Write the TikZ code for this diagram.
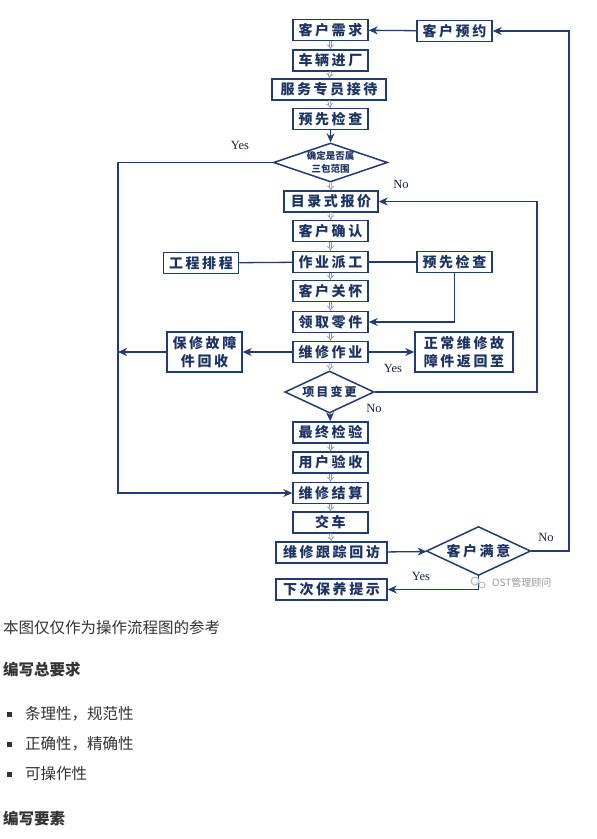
\documentclass[tikz,border=0pt]{standalone}
\usepackage{fontspec}
\setmainfont{Liberation Serif}
\newfontfamily\cjk{Noto Sans CJK SC}
\newfontfamily\boxcjk[LetterSpace=18]{Noto Sans CJK SC}
\usepackage{tikz}
\usetikzlibrary{arrows.meta,shapes.geometric,positioning}
\definecolor{navy}{RGB}{33,60,112}
\definecolor{boxtext}{RGB}{28,52,100}
\definecolor{hollowc}{RGB}{130,148,185}
\definecolor{bodytext}{RGB}{51,51,51}

\begin{document}
\begin{tikzpicture}[x=1pt,y=-1pt,
  box/.style={draw=navy,line width=1.5pt,fill=white,text=boxtext,inner sep=0pt,
    minimum width=75pt,minimum height=21pt,align=center,
    font=\boxcjk\bfseries\fontsize{14}{18}\selectfont},
  dia/.style={diamond,aspect=3,draw=navy,line width=1.5pt,fill=white,text=boxtext,
    inner sep=0pt,align=center},
  flow/.style={draw=navy,line width=1.3pt,-{Stealth[length=9pt,width=8pt]}},
  link/.style={draw=navy,line width=1.3pt},
  hollow/.style={draw=hollowc,double=white,double distance=1.6pt,line width=0.7pt,-{Implies}},
  yn/.style={font=\fontsize{12.5}{14}\selectfont,text=navy!60!black,inner sep=0pt},
  body/.style={anchor=west,text=bodytext,inner sep=0pt,font=\cjk\fontsize{15.5}{18}\selectfont}]
  \useasboundingbox (0,0) rectangle (597,839);

  \node[box] (need) at (330.5,30) {客户需求};
  \node[box] (enter) at (330.5,60.5) {车辆进厂};
  \node[box,minimum width=114pt] (recept) at (329,89.5) {服务专员接待};
  \node[box] (precheck) at (330.5,119) {预先检查};
  \node[dia,minimum width=113pt,minimum height=39pt,
    font=\cjk\bfseries\fontsize{9.5}{13}\selectfont] (warranty) at (330.5,162.5) {确定是否属\\三包范围};
  \node[box,minimum width=94pt] (quote) at (331,201.5) {目录式报价};
  \node[box] (confirm) at (330.5,231) {客户确认};
  \node[box] (dispatch) at (330.5,262) {作业派工};
  \node[box] (schedule) at (201,263) {工程排程};
  \node[box] (care) at (330.5,291) {客户关怀};
  \node[box] (parts) at (330.5,322) {领取零件};
  \node[box] (repair) at (330.5,352) {维修作业};
  \node[box,minimum height=40pt] (recycle) at (204.5,352) {保修故障\\件回收};
  \node[box,minimum width=98pt,minimum height=40pt] (return) at (464,352) {正常维修故\\障件返回至};
  \node[box] (recheck) at (454.5,262) {预先检查};
  \node[box] (booking) at (454.5,31) {客户预约};
  \node[dia,minimum width=87pt,minimum height=42pt,
    font=\boxcjk\bfseries\fontsize{12}{14}\selectfont] (change) at (329.5,392) {项目变更};
  \node[box] (final) at (330.5,432.5) {最终检验};
  \node[box] (accept) at (330.5,462.5) {用户验收};
  \node[box] (settle) at (330.5,493) {维修结算};
  \node[box] (deliver) at (330.5,522.5) {交车};
  \node[box,minimum width=111pt] (follow) at (331.5,552.5) {维修跟踪回访};
  \node[box,minimum width=111pt] (next) at (331.5,589.5) {下次保养提示};
  \node[dia,minimum width=103pt,minimum height=49pt,
    font=\boxcjk\bfseries\fontsize{14}{16}\selectfont] (satisfy) at (478.5,551) {客户满意};

  \coordinate (leftbus) at (118,162.5);
  \coordinate (rightbus) at (537,392);
  \coordinate (outerbus) at (569,551);

  \foreach \a/\b in {need/enter,enter/recept,recept/precheck,warranty/quote,quote/confirm,
    confirm/dispatch,dispatch/care,care/parts,parts/repair,repair/change,
    final/accept,accept/settle,settle/deliver,deliver/follow}
    \draw[hollow] (\a.south) -- (\b.north);
  \draw[flow] (precheck) -- (warranty);
  \draw[flow] (change) -- (final);

  \draw[flow] (booking) -- (need);
  \draw[flow] (satisfy.east) -- (outerbus) |- (booking.east);
  \draw[flow] (warranty.west) -- (leftbus) |- (settle.west);
  \draw[flow] (repair) -- (recycle);
  \draw[flow] (recycle.west) -- (recycle.west -| leftbus);
  \draw[flow] (repair) -- (return);
  \draw[link] (schedule) -- (dispatch);
  \draw[link] (dispatch) -- (recheck);
  \draw[flow] (recheck.south) |- (parts.east);
  \draw[flow] (change.east) -- (rightbus) |- (quote.east);
  \draw[flow] (follow) -- (satisfy);
  \draw[flow] (satisfy.south) -- (satisfy.south |- next) -- (next.east);

  \node[yn] (yes1) at (240,145) {Yes};
  \node[yn] (no1) at (401,184) {No};
  \node[yn] (yes2) at (393,368) {Yes};
  \node[yn] (no2) at (374,408) {No};
  \node[yn] (no3) at (546,537) {No};
  \node[yn] (yes3) at (421,576) {Yes};

  \fill[gray!55] (475,581) circle (4.5pt);
  \fill[white] (475,581) circle (3.2pt);
  \fill[gray!55] (482,585) circle (3.5pt);
  \fill[white] (482,585) circle (2.4pt);
  \node[anchor=west,inner sep=0pt,text=gray!80,font=\cjk\fontsize{10}{12}\selectfont] (mark) at (492,583) {OST管理顾问};

  \node[body] (note) at (3,628) {本图仅仅作为操作流程图的参考};
  \node[body,font=\cjk\bfseries\fontsize{15.5}{18}\selectfont] (head1) at (3,670) {编写总要求};
  \foreach \t/\y in {条理性，规范性/714,正确性，精确性/744,可操作性/774}{
    \fill[bodytext] (7,\y-2.5) rectangle (12,\y+2.5);
    \node[body] at (25,\y) {\t};
  }
  \node[body,font=\cjk\bfseries\fontsize{15.5}{18}\selectfont] (head2) at (3,819) {编写要素};
\end{tikzpicture}
\end{document}
